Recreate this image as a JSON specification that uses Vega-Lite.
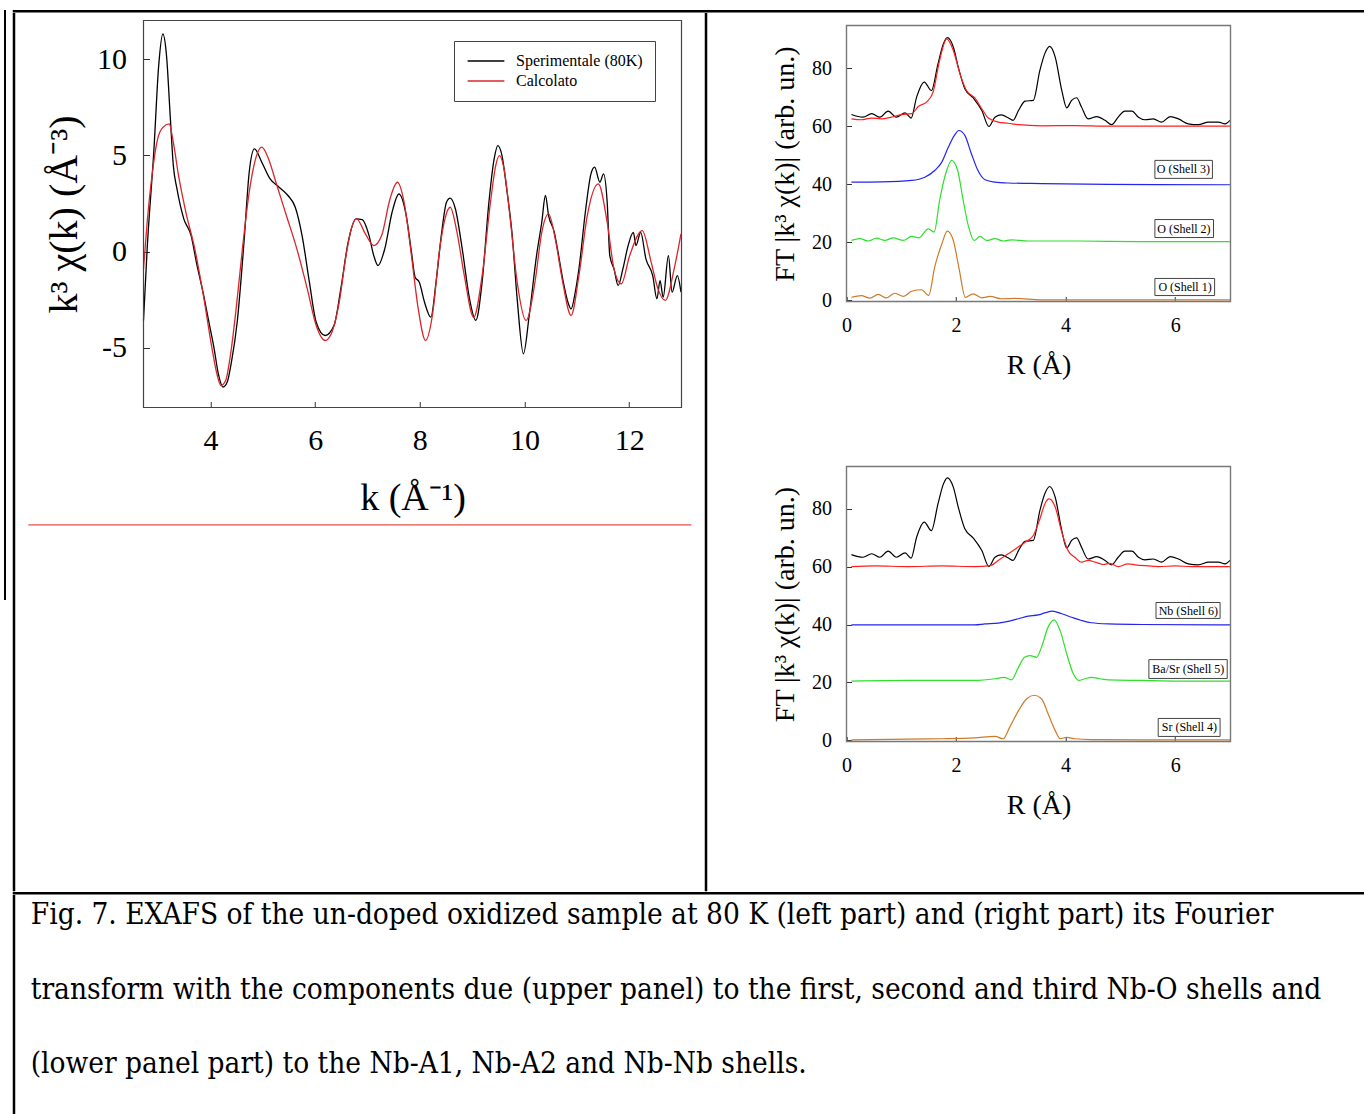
{
  "$schema": "https://vega.github.io/schema/vega-lite/v6.json",
  "background": "white",
  "padding": {"left": 4, "top": 10, "right": 0, "bottom": 0},
  "config": {
    "font": "Liberation Serif",
    "view": {"stroke": null},
    "concat": {"spacing": 0},
    "axis": {
      "grid": false, "domain": false,
      "labelFont": "Liberation Serif", "titleFont": "Liberation Serif",
      "labelColor": "black", "titleColor": "black", "titleFontWeight": "normal",
      "tickColor": "#333", "labelFlush": false, "labelOverlap": false,
      "labelExpr": "datum.value < 0 ? '-' + abs(datum.value) : '' + datum.value"
    }
  },
  "datasets": {
    "blank": [{}],
    "exafs": [
      {"k": 2.72, "chi": -3.58, "series": "Sperimentale (80K)"},
      {"k": 2.79, "chi": 0.14, "series": "Sperimentale (80K)"},
      {"k": 2.92, "chi": 5.33, "series": "Sperimentale (80K)"},
      {"k": 3.01, "chi": 9.65, "series": "Sperimentale (80K)"},
      {"k": 3.09, "chi": 11.3, "series": "Sperimentale (80K)"},
      {"k": 3.16, "chi": 10.17, "series": "Sperimentale (80K)"},
      {"k": 3.23, "chi": 7.06, "series": "Sperimentale (80K)"},
      {"k": 3.29, "chi": 4.46, "series": "Sperimentale (80K)"},
      {"k": 3.36, "chi": 3.25, "series": "Sperimentale (80K)"},
      {"k": 3.49, "chi": 1.7, "series": "Sperimentale (80K)"},
      {"k": 3.63, "chi": 0.83, "series": "Sperimentale (80K)"},
      {"k": 3.73, "chi": -0.55, "series": "Sperimentale (80K)"},
      {"k": 3.87, "chi": -2.28, "series": "Sperimentale (80K)"},
      {"k": 3.97, "chi": -3.67, "series": "Sperimentale (80K)"},
      {"k": 4.07, "chi": -5.05, "series": "Sperimentale (80K)"},
      {"k": 4.15, "chi": -6.35, "series": "Sperimentale (80K)"},
      {"k": 4.24, "chi": -7.04, "series": "Sperimentale (80K)"},
      {"k": 4.32, "chi": -6.78, "series": "Sperimentale (80K)"},
      {"k": 4.4, "chi": -5.74, "series": "Sperimentale (80K)"},
      {"k": 4.51, "chi": -3.67, "series": "Sperimentale (80K)"},
      {"k": 4.64, "chi": 0.48, "series": "Sperimentale (80K)"},
      {"k": 4.74, "chi": 4.12, "series": "Sperimentale (80K)"},
      {"k": 4.84, "chi": 5.33, "series": "Sperimentale (80K)"},
      {"k": 4.98, "chi": 4.64, "series": "Sperimentale (80K)"},
      {"k": 5.14, "chi": 3.77, "series": "Sperimentale (80K)"},
      {"k": 5.31, "chi": 3.34, "series": "Sperimentale (80K)"},
      {"k": 5.48, "chi": 2.91, "series": "Sperimentale (80K)"},
      {"k": 5.62, "chi": 2.3, "series": "Sperimentale (80K)"},
      {"k": 5.75, "chi": 0.83, "series": "Sperimentale (80K)"},
      {"k": 5.89, "chi": -1.59, "series": "Sperimentale (80K)"},
      {"k": 6.02, "chi": -3.67, "series": "Sperimentale (80K)"},
      {"k": 6.19, "chi": -4.36, "series": "Sperimentale (80K)"},
      {"k": 6.36, "chi": -3.84, "series": "Sperimentale (80K)"},
      {"k": 6.49, "chi": -1.94, "series": "Sperimentale (80K)"},
      {"k": 6.63, "chi": 0.48, "series": "Sperimentale (80K)"},
      {"k": 6.78, "chi": 1.7, "series": "Sperimentale (80K)"},
      {"k": 6.9, "chi": 1.66, "series": "Sperimentale (80K)"},
      {"k": 7.03, "chi": 0.83, "series": "Sperimentale (80K)"},
      {"k": 7.12, "chi": -0.21, "series": "Sperimentale (80K)"},
      {"k": 7.2, "chi": -0.73, "series": "Sperimentale (80K)"},
      {"k": 7.33, "chi": 0.14, "series": "Sperimentale (80K)"},
      {"k": 7.47, "chi": 2.04, "series": "Sperimentale (80K)"},
      {"k": 7.6, "chi": 2.99, "series": "Sperimentale (80K)"},
      {"k": 7.74, "chi": 1.87, "series": "Sperimentale (80K)"},
      {"k": 7.84, "chi": -0.03, "series": "Sperimentale (80K)"},
      {"k": 7.91, "chi": -1.33, "series": "Sperimentale (80K)"},
      {"k": 7.99, "chi": -1.59, "series": "Sperimentale (80K)"},
      {"k": 8.09, "chi": -2.63, "series": "Sperimentale (80K)"},
      {"k": 8.21, "chi": -3.41, "series": "Sperimentale (80K)"},
      {"k": 8.31, "chi": -1.59, "series": "Sperimentale (80K)"},
      {"k": 8.41, "chi": 0.83, "series": "Sperimentale (80K)"},
      {"k": 8.51, "chi": 2.56, "series": "Sperimentale (80K)"},
      {"k": 8.58, "chi": 2.77, "series": "Sperimentale (80K)"},
      {"k": 8.68, "chi": 2.21, "series": "Sperimentale (80K)"},
      {"k": 8.81, "chi": 0.14, "series": "Sperimentale (80K)"},
      {"k": 8.95, "chi": -2.46, "series": "Sperimentale (80K)"},
      {"k": 9.07, "chi": -3.58, "series": "Sperimentale (80K)"},
      {"k": 9.19, "chi": -1.59, "series": "Sperimentale (80K)"},
      {"k": 9.32, "chi": 2.56, "series": "Sperimentale (80K)"},
      {"k": 9.42, "chi": 4.81, "series": "Sperimentale (80K)"},
      {"k": 9.49, "chi": 5.5, "series": "Sperimentale (80K)"},
      {"k": 9.57, "chi": 4.98, "series": "Sperimentale (80K)"},
      {"k": 9.66, "chi": 3.25, "series": "Sperimentale (80K)"},
      {"k": 9.76, "chi": 1.0, "series": "Sperimentale (80K)"},
      {"k": 9.86, "chi": -2.46, "series": "Sperimentale (80K)"},
      {"k": 9.98, "chi": -5.31, "series": "Sperimentale (80K)"},
      {"k": 10.09, "chi": -3.32, "series": "Sperimentale (80K)"},
      {"k": 10.23, "chi": -0.21, "series": "Sperimentale (80K)"},
      {"k": 10.33, "chi": 1.52, "series": "Sperimentale (80K)"},
      {"k": 10.4, "chi": 2.91, "series": "Sperimentale (80K)"},
      {"k": 10.46, "chi": 1.87, "series": "Sperimentale (80K)"},
      {"k": 10.57, "chi": 1.0, "series": "Sperimentale (80K)"},
      {"k": 10.63, "chi": 0.14, "series": "Sperimentale (80K)"},
      {"k": 10.73, "chi": -1.42, "series": "Sperimentale (80K)"},
      {"k": 10.83, "chi": -2.63, "series": "Sperimentale (80K)"},
      {"k": 10.89, "chi": -2.98, "series": "Sperimentale (80K)"},
      {"k": 10.97, "chi": -2.11, "series": "Sperimentale (80K)"},
      {"k": 11.04, "chi": -0.9, "series": "Sperimentale (80K)"},
      {"k": 11.17, "chi": 2.21, "series": "Sperimentale (80K)"},
      {"k": 11.27, "chi": 4.03, "series": "Sperimentale (80K)"},
      {"k": 11.34, "chi": 4.38, "series": "Sperimentale (80K)"},
      {"k": 11.44, "chi": 3.6, "series": "Sperimentale (80K)"},
      {"k": 11.51, "chi": 4.03, "series": "Sperimentale (80K)"},
      {"k": 11.58, "chi": 2.56, "series": "Sperimentale (80K)"},
      {"k": 11.63, "chi": -0.21, "series": "Sperimentale (80K)"},
      {"k": 11.71, "chi": -0.9, "series": "Sperimentale (80K)"},
      {"k": 11.79, "chi": -1.76, "series": "Sperimentale (80K)"},
      {"k": 11.88, "chi": -0.9, "series": "Sperimentale (80K)"},
      {"k": 11.98, "chi": 0.31, "series": "Sperimentale (80K)"},
      {"k": 12.08, "chi": 1.0, "series": "Sperimentale (80K)"},
      {"k": 12.13, "chi": 0.31, "series": "Sperimentale (80K)"},
      {"k": 12.22, "chi": 1.0, "series": "Sperimentale (80K)"},
      {"k": 12.32, "chi": -0.38, "series": "Sperimentale (80K)"},
      {"k": 12.45, "chi": -1.25, "series": "Sperimentale (80K)"},
      {"k": 12.53, "chi": -2.46, "series": "Sperimentale (80K)"},
      {"k": 12.59, "chi": -1.51, "series": "Sperimentale (80K)"},
      {"k": 12.65, "chi": -2.37, "series": "Sperimentale (80K)"},
      {"k": 12.75, "chi": -0.21, "series": "Sperimentale (80K)"},
      {"k": 12.82, "chi": -2.11, "series": "Sperimentale (80K)"},
      {"k": 12.92, "chi": -1.25, "series": "Sperimentale (80K)"},
      {"k": 12.99, "chi": -2.11, "series": "Sperimentale (80K)"},
      {"k": 2.72, "chi": -0.9, "series": "Calcolato"},
      {"k": 2.79, "chi": 1.52, "series": "Calcolato"},
      {"k": 2.89, "chi": 4.12, "series": "Calcolato"},
      {"k": 2.99, "chi": 5.85, "series": "Calcolato"},
      {"k": 3.09, "chi": 6.45, "series": "Calcolato"},
      {"k": 3.21, "chi": 6.63, "series": "Calcolato"},
      {"k": 3.29, "chi": 5.67, "series": "Calcolato"},
      {"k": 3.39, "chi": 3.94, "series": "Calcolato"},
      {"k": 3.53, "chi": 2.04, "series": "Calcolato"},
      {"k": 3.7, "chi": 0.14, "series": "Calcolato"},
      {"k": 3.87, "chi": -2.37, "series": "Calcolato"},
      {"k": 4.03, "chi": -5.05, "series": "Calcolato"},
      {"k": 4.13, "chi": -6.44, "series": "Calcolato"},
      {"k": 4.2, "chi": -6.96, "series": "Calcolato"},
      {"k": 4.29, "chi": -6.7, "series": "Calcolato"},
      {"k": 4.38, "chi": -5.4, "series": "Calcolato"},
      {"k": 4.49, "chi": -2.98, "series": "Calcolato"},
      {"k": 4.61, "chi": 0.14, "series": "Calcolato"},
      {"k": 4.74, "chi": 3.08, "series": "Calcolato"},
      {"k": 4.88, "chi": 4.98, "series": "Calcolato"},
      {"k": 4.98, "chi": 5.42, "series": "Calcolato"},
      {"k": 5.11, "chi": 4.81, "series": "Calcolato"},
      {"k": 5.25, "chi": 3.6, "series": "Calcolato"},
      {"k": 5.45, "chi": 1.87, "series": "Calcolato"},
      {"k": 5.65, "chi": 0.14, "series": "Calcolato"},
      {"k": 5.85, "chi": -1.94, "series": "Calcolato"},
      {"k": 6.02, "chi": -3.84, "series": "Calcolato"},
      {"k": 6.19, "chi": -4.62, "series": "Calcolato"},
      {"k": 6.32, "chi": -4.19, "series": "Calcolato"},
      {"k": 6.46, "chi": -2.63, "series": "Calcolato"},
      {"k": 6.59, "chi": -0.21, "series": "Calcolato"},
      {"k": 6.69, "chi": 1.18, "series": "Calcolato"},
      {"k": 6.79, "chi": 1.7, "series": "Calcolato"},
      {"k": 6.96, "chi": 0.92, "series": "Calcolato"},
      {"k": 7.12, "chi": 0.31, "series": "Calcolato"},
      {"k": 7.27, "chi": 0.83, "series": "Calcolato"},
      {"k": 7.43, "chi": 2.73, "series": "Calcolato"},
      {"k": 7.57, "chi": 3.6, "series": "Calcolato"},
      {"k": 7.7, "chi": 2.56, "series": "Calcolato"},
      {"k": 7.84, "chi": -0.21, "series": "Calcolato"},
      {"k": 7.97, "chi": -2.98, "series": "Calcolato"},
      {"k": 8.11, "chi": -4.62, "series": "Calcolato"},
      {"k": 8.24, "chi": -3.32, "series": "Calcolato"},
      {"k": 8.38, "chi": 0.14, "series": "Calcolato"},
      {"k": 8.48, "chi": 1.7, "series": "Calcolato"},
      {"k": 8.58, "chi": 2.3, "series": "Calcolato"},
      {"k": 8.71, "chi": 1.0, "series": "Calcolato"},
      {"k": 8.85, "chi": -1.25, "series": "Calcolato"},
      {"k": 9.03, "chi": -3.41, "series": "Calcolato"},
      {"k": 9.19, "chi": -1.25, "series": "Calcolato"},
      {"k": 9.35, "chi": 2.56, "series": "Calcolato"},
      {"k": 9.45, "chi": 4.46, "series": "Calcolato"},
      {"k": 9.52, "chi": 4.98, "series": "Calcolato"},
      {"k": 9.62, "chi": 4.12, "series": "Calcolato"},
      {"k": 9.72, "chi": 1.87, "series": "Calcolato"},
      {"k": 9.86, "chi": -1.59, "series": "Calcolato"},
      {"k": 10.03, "chi": -3.58, "series": "Calcolato"},
      {"k": 10.2, "chi": -1.59, "series": "Calcolato"},
      {"k": 10.33, "chi": 1.0, "series": "Calcolato"},
      {"k": 10.46, "chi": 1.96, "series": "Calcolato"},
      {"k": 10.6, "chi": 0.48, "series": "Calcolato"},
      {"k": 10.73, "chi": -1.59, "series": "Calcolato"},
      {"k": 10.89, "chi": -3.32, "series": "Calcolato"},
      {"k": 11.04, "chi": -1.25, "series": "Calcolato"},
      {"k": 11.2, "chi": 1.87, "series": "Calcolato"},
      {"k": 11.41, "chi": 3.51, "series": "Calcolato"},
      {"k": 11.58, "chi": 1.52, "series": "Calcolato"},
      {"k": 11.71, "chi": -0.9, "series": "Calcolato"},
      {"k": 11.85, "chi": -1.68, "series": "Calcolato"},
      {"k": 12.01, "chi": -0.21, "series": "Calcolato"},
      {"k": 12.25, "chi": 1.09, "series": "Calcolato"},
      {"k": 12.42, "chi": -0.55, "series": "Calcolato"},
      {"k": 12.55, "chi": -1.94, "series": "Calcolato"},
      {"k": 12.69, "chi": -2.54, "series": "Calcolato"},
      {"k": 12.86, "chi": -0.9, "series": "Calcolato"},
      {"k": 12.99, "chi": 0.92, "series": "Calcolato"}
    ],
    "ft_exp": [
      {"R": 0.09, "ft": 64.1}, {"R": 0.3, "ft": 63.2}, {"R": 0.46, "ft": 64.4}, {"R": 0.61, "ft": 63.2},
      {"R": 0.76, "ft": 65.3}, {"R": 0.91, "ft": 63.2}, {"R": 1.07, "ft": 64.7}, {"R": 1.18, "ft": 62.9},
      {"R": 1.28, "ft": 70.1}, {"R": 1.42, "ft": 75.3}, {"R": 1.55, "ft": 72.4}, {"R": 1.67, "ft": 81.6},
      {"R": 1.77, "ft": 88.5}, {"R": 1.84, "ft": 90.6}, {"R": 1.95, "ft": 87.4}, {"R": 2.04, "ft": 80.5},
      {"R": 2.16, "ft": 73.0}, {"R": 2.31, "ft": 69.9}, {"R": 2.47, "ft": 65.5}, {"R": 2.6, "ft": 60.0},
      {"R": 2.71, "ft": 63.2}, {"R": 2.83, "ft": 64.0}, {"R": 2.95, "ft": 63.0}, {"R": 3.04, "ft": 62.1},
      {"R": 3.14, "ft": 65.5}, {"R": 3.26, "ft": 68.7}, {"R": 3.41, "ft": 69.0}, {"R": 3.53, "ft": 79.3},
      {"R": 3.62, "ft": 85.1}, {"R": 3.71, "ft": 87.6}, {"R": 3.81, "ft": 83.9}, {"R": 3.93, "ft": 72.4},
      {"R": 4.02, "ft": 66.4}, {"R": 4.11, "ft": 69.0}, {"R": 4.2, "ft": 69.9}, {"R": 4.29, "ft": 66.7},
      {"R": 4.41, "ft": 62.6}, {"R": 4.57, "ft": 63.4}, {"R": 4.72, "ft": 62.1}, {"R": 4.84, "ft": 60.6},
      {"R": 4.96, "ft": 63.2}, {"R": 5.08, "ft": 65.3}, {"R": 5.21, "ft": 65.3}, {"R": 5.33, "ft": 63.2},
      {"R": 5.45, "ft": 62.3}, {"R": 5.6, "ft": 62.6}, {"R": 5.75, "ft": 61.5}, {"R": 5.91, "ft": 63.4},
      {"R": 6.06, "ft": 62.6}, {"R": 6.24, "ft": 60.9}, {"R": 6.42, "ft": 60.6}, {"R": 6.61, "ft": 61.5},
      {"R": 6.79, "ft": 61.5}, {"R": 6.91, "ft": 60.9}, {"R": 7.0, "ft": 62.1}
    ],
    "ft_upper": [
      {"R": 0.09, "ft": 62.6, "series": "Fit"}, {"R": 0.27, "ft": 62.3, "series": "Fit"},
      {"R": 0.46, "ft": 62.9, "series": "Fit"}, {"R": 0.64, "ft": 62.6, "series": "Fit"},
      {"R": 0.82, "ft": 63.2, "series": "Fit"}, {"R": 1.0, "ft": 64.1, "series": "Fit"},
      {"R": 1.19, "ft": 64.4, "series": "Fit"}, {"R": 1.31, "ft": 66.9, "series": "Fit"},
      {"R": 1.46, "ft": 68.4, "series": "Fit"}, {"R": 1.58, "ft": 71.8, "series": "Fit"},
      {"R": 1.7, "ft": 82.8, "series": "Fit"}, {"R": 1.83, "ft": 90.2, "series": "Fit"},
      {"R": 1.95, "ft": 86.2, "series": "Fit"}, {"R": 2.07, "ft": 78.2, "series": "Fit"},
      {"R": 2.19, "ft": 72.4, "series": "Fit"}, {"R": 2.34, "ft": 69.9, "series": "Fit"},
      {"R": 2.47, "ft": 66.1, "series": "Fit"}, {"R": 2.59, "ft": 62.9, "series": "Fit"},
      {"R": 2.77, "ft": 61.5, "series": "Fit"}, {"R": 2.95, "ft": 61.1, "series": "Fit"},
      {"R": 3.14, "ft": 60.6, "series": "Fit"}, {"R": 3.56, "ft": 60.2, "series": "Fit"},
      {"R": 4.17, "ft": 60.3, "series": "Fit"}, {"R": 4.78, "ft": 60.1, "series": "Fit"},
      {"R": 6.0, "ft": 60.1, "series": "Fit"}, {"R": 7.0, "ft": 60.1, "series": "Fit"},
      {"R": 0.09, "ft": 40.8, "series": "O (Shell 3)"}, {"R": 0.64, "ft": 40.9, "series": "O (Shell 3)"},
      {"R": 1.19, "ft": 41.4, "series": "O (Shell 3)"}, {"R": 1.43, "ft": 42.5, "series": "O (Shell 3)"},
      {"R": 1.61, "ft": 44.8, "series": "O (Shell 3)"}, {"R": 1.74, "ft": 47.7, "series": "O (Shell 3)"},
      {"R": 1.86, "ft": 52.9, "series": "O (Shell 3)"}, {"R": 1.97, "ft": 56.9, "series": "O (Shell 3)"},
      {"R": 2.05, "ft": 58.6, "series": "O (Shell 3)"}, {"R": 2.16, "ft": 56.9, "series": "O (Shell 3)"},
      {"R": 2.28, "ft": 50.6, "series": "O (Shell 3)"}, {"R": 2.4, "ft": 44.8, "series": "O (Shell 3)"},
      {"R": 2.53, "ft": 41.6, "series": "O (Shell 3)"}, {"R": 2.71, "ft": 40.8, "series": "O (Shell 3)"},
      {"R": 2.95, "ft": 40.5, "series": "O (Shell 3)"}, {"R": 3.56, "ft": 40.3, "series": "O (Shell 3)"},
      {"R": 4.78, "ft": 40.0, "series": "O (Shell 3)"}, {"R": 7.0, "ft": 39.9, "series": "O (Shell 3)"},
      {"R": 0.09, "ft": 20.7, "series": "O (Shell 2)"}, {"R": 0.24, "ft": 21.3, "series": "O (Shell 2)"},
      {"R": 0.4, "ft": 20.5, "series": "O (Shell 2)"}, {"R": 0.55, "ft": 21.5, "series": "O (Shell 2)"},
      {"R": 0.7, "ft": 20.7, "series": "O (Shell 2)"}, {"R": 0.85, "ft": 21.6, "series": "O (Shell 2)"},
      {"R": 1.04, "ft": 20.7, "series": "O (Shell 2)"}, {"R": 1.19, "ft": 22.1, "series": "O (Shell 2)"},
      {"R": 1.32, "ft": 21.6, "series": "O (Shell 2)"}, {"R": 1.49, "ft": 24.7, "series": "O (Shell 2)"},
      {"R": 1.6, "ft": 23.6, "series": "O (Shell 2)"}, {"R": 1.7, "ft": 34.5, "series": "O (Shell 2)"},
      {"R": 1.81, "ft": 43.7, "series": "O (Shell 2)"}, {"R": 1.92, "ft": 48.3, "series": "O (Shell 2)"},
      {"R": 2.03, "ft": 44.8, "series": "O (Shell 2)"}, {"R": 2.13, "ft": 34.5, "series": "O (Shell 2)"},
      {"R": 2.23, "ft": 25.3, "series": "O (Shell 2)"}, {"R": 2.33, "ft": 20.7, "series": "O (Shell 2)"},
      {"R": 2.44, "ft": 22.1, "series": "O (Shell 2)"}, {"R": 2.56, "ft": 20.7, "series": "O (Shell 2)"},
      {"R": 2.71, "ft": 21.3, "series": "O (Shell 2)"}, {"R": 2.86, "ft": 20.5, "series": "O (Shell 2)"},
      {"R": 3.01, "ft": 20.9, "series": "O (Shell 2)"}, {"R": 3.32, "ft": 20.5, "series": "O (Shell 2)"},
      {"R": 4.17, "ft": 20.5, "series": "O (Shell 2)"}, {"R": 5.39, "ft": 20.3, "series": "O (Shell 2)"},
      {"R": 7.0, "ft": 20.3, "series": "O (Shell 2)"},
      {"R": 0.09, "ft": 1.1, "series": "O (Shell 1)"}, {"R": 0.27, "ft": 1.7, "series": "O (Shell 1)"},
      {"R": 0.43, "ft": 0.8, "series": "O (Shell 1)"}, {"R": 0.58, "ft": 2.1, "series": "O (Shell 1)"},
      {"R": 0.73, "ft": 0.9, "series": "O (Shell 1)"}, {"R": 0.88, "ft": 2.5, "series": "O (Shell 1)"},
      {"R": 1.04, "ft": 1.4, "series": "O (Shell 1)"}, {"R": 1.19, "ft": 3.2, "series": "O (Shell 1)"},
      {"R": 1.37, "ft": 3.7, "series": "O (Shell 1)"}, {"R": 1.5, "ft": 1.7, "series": "O (Shell 1)"},
      {"R": 1.61, "ft": 11.5, "series": "O (Shell 1)"}, {"R": 1.74, "ft": 19.5, "series": "O (Shell 1)"},
      {"R": 1.84, "ft": 23.9, "series": "O (Shell 1)"}, {"R": 1.95, "ft": 20.7, "series": "O (Shell 1)"},
      {"R": 2.05, "ft": 11.5, "series": "O (Shell 1)"}, {"R": 2.17, "ft": 1.1, "series": "O (Shell 1)"},
      {"R": 2.31, "ft": 2.3, "series": "O (Shell 1)"}, {"R": 2.47, "ft": 0.9, "series": "O (Shell 1)"},
      {"R": 2.62, "ft": 1.4, "series": "O (Shell 1)"}, {"R": 2.83, "ft": 0.6, "series": "O (Shell 1)"},
      {"R": 3.07, "ft": 0.7, "series": "O (Shell 1)"}, {"R": 3.56, "ft": 0.2, "series": "O (Shell 1)"},
      {"R": 4.78, "ft": 0.2, "series": "O (Shell 1)"}, {"R": 7.0, "ft": 0.2, "series": "O (Shell 1)"}
    ],
    "ft_lower": [
      {"R": 0.09, "ft": 60.0, "series": "Fit"}, {"R": 0.52, "ft": 60.2, "series": "Fit"},
      {"R": 1.13, "ft": 60.0, "series": "Fit"}, {"R": 1.74, "ft": 60.2, "series": "Fit"},
      {"R": 2.34, "ft": 60.0, "series": "Fit"}, {"R": 2.62, "ft": 60.3, "series": "Fit"},
      {"R": 2.77, "ft": 62.1, "series": "Fit"}, {"R": 2.95, "ft": 64.4, "series": "Fit"},
      {"R": 3.11, "ft": 66.4, "series": "Fit"}, {"R": 3.26, "ft": 68.4, "series": "Fit"},
      {"R": 3.41, "ft": 70.7, "series": "Fit"}, {"R": 3.53, "ft": 76.4, "series": "Fit"},
      {"R": 3.62, "ft": 81.6, "series": "Fit"}, {"R": 3.7, "ft": 83.3, "series": "Fit"},
      {"R": 3.81, "ft": 80.5, "series": "Fit"}, {"R": 3.93, "ft": 71.8, "series": "Fit"},
      {"R": 4.05, "ft": 65.3, "series": "Fit"}, {"R": 4.17, "ft": 63.2, "series": "Fit"},
      {"R": 4.29, "ft": 61.5, "series": "Fit"}, {"R": 4.41, "ft": 62.1, "series": "Fit"},
      {"R": 4.54, "ft": 61.5, "series": "Fit"}, {"R": 4.69, "ft": 60.7, "series": "Fit"},
      {"R": 4.81, "ft": 61.1, "series": "Fit"}, {"R": 4.96, "ft": 60.0, "series": "Fit"},
      {"R": 5.14, "ft": 60.9, "series": "Fit"}, {"R": 5.27, "ft": 60.6, "series": "Fit"},
      {"R": 5.45, "ft": 60.3, "series": "Fit"}, {"R": 5.69, "ft": 60.0, "series": "Fit"},
      {"R": 6.0, "ft": 60.2, "series": "Fit"}, {"R": 6.3, "ft": 60.0, "series": "Fit"},
      {"R": 7.0, "ft": 60.0, "series": "Fit"},
      {"R": 0.09, "ft": 39.9, "series": "Nb (Shell 6)"}, {"R": 2.34, "ft": 39.9, "series": "Nb (Shell 6)"},
      {"R": 2.53, "ft": 40.2, "series": "Nb (Shell 6)"}, {"R": 2.77, "ft": 40.5, "series": "Nb (Shell 6)"},
      {"R": 2.95, "ft": 41.1, "series": "Nb (Shell 6)"}, {"R": 3.14, "ft": 42.0, "series": "Nb (Shell 6)"},
      {"R": 3.32, "ft": 42.9, "series": "Nb (Shell 6)"}, {"R": 3.5, "ft": 43.3, "series": "Nb (Shell 6)"},
      {"R": 3.62, "ft": 44.0, "series": "Nb (Shell 6)"}, {"R": 3.76, "ft": 44.6, "series": "Nb (Shell 6)"},
      {"R": 3.93, "ft": 43.7, "series": "Nb (Shell 6)"}, {"R": 4.11, "ft": 42.5, "series": "Nb (Shell 6)"},
      {"R": 4.29, "ft": 41.4, "series": "Nb (Shell 6)"}, {"R": 4.47, "ft": 40.6, "series": "Nb (Shell 6)"},
      {"R": 4.78, "ft": 40.2, "series": "Nb (Shell 6)"}, {"R": 5.39, "ft": 40.0, "series": "Nb (Shell 6)"},
      {"R": 7.0, "ft": 39.9, "series": "Nb (Shell 6)"},
      {"R": 0.09, "ft": 20.5, "series": "Ba/Sr (Shell 5)"}, {"R": 1.13, "ft": 20.7, "series": "Ba/Sr (Shell 5)"},
      {"R": 1.74, "ft": 20.7, "series": "Ba/Sr (Shell 5)"}, {"R": 2.34, "ft": 20.7, "series": "Ba/Sr (Shell 5)"},
      {"R": 2.71, "ft": 21.3, "series": "Ba/Sr (Shell 5)"}, {"R": 2.88, "ft": 21.8, "series": "Ba/Sr (Shell 5)"},
      {"R": 3.01, "ft": 20.9, "series": "Ba/Sr (Shell 5)"}, {"R": 3.14, "ft": 25.3, "series": "Ba/Sr (Shell 5)"},
      {"R": 3.25, "ft": 28.7, "series": "Ba/Sr (Shell 5)"}, {"R": 3.35, "ft": 29.3, "series": "Ba/Sr (Shell 5)"},
      {"R": 3.47, "ft": 28.7, "series": "Ba/Sr (Shell 5)"}, {"R": 3.56, "ft": 32.2, "series": "Ba/Sr (Shell 5)"},
      {"R": 3.68, "ft": 39.1, "series": "Ba/Sr (Shell 5)"}, {"R": 3.79, "ft": 41.6, "series": "Ba/Sr (Shell 5)"},
      {"R": 3.9, "ft": 37.9, "series": "Ba/Sr (Shell 5)"}, {"R": 4.02, "ft": 29.9, "series": "Ba/Sr (Shell 5)"},
      {"R": 4.14, "ft": 23.0, "series": "Ba/Sr (Shell 5)"}, {"R": 4.24, "ft": 20.7, "series": "Ba/Sr (Shell 5)"},
      {"R": 4.35, "ft": 21.3, "series": "Ba/Sr (Shell 5)"}, {"R": 4.47, "ft": 21.8, "series": "Ba/Sr (Shell 5)"},
      {"R": 4.63, "ft": 21.3, "series": "Ba/Sr (Shell 5)"}, {"R": 4.78, "ft": 20.9, "series": "Ba/Sr (Shell 5)"},
      {"R": 5.39, "ft": 20.7, "series": "Ba/Sr (Shell 5)"}, {"R": 6.0, "ft": 20.5, "series": "Ba/Sr (Shell 5)"},
      {"R": 7.0, "ft": 20.5, "series": "Ba/Sr (Shell 5)"},
      {"R": 0.09, "ft": 0.2, "series": "Sr (Shell 4)"}, {"R": 1.13, "ft": 0.5, "series": "Sr (Shell 4)"},
      {"R": 1.74, "ft": 0.6, "series": "Sr (Shell 4)"}, {"R": 2.34, "ft": 0.9, "series": "Sr (Shell 4)"},
      {"R": 2.71, "ft": 1.4, "series": "Sr (Shell 4)"}, {"R": 2.86, "ft": 0.6, "series": "Sr (Shell 4)"},
      {"R": 2.98, "ft": 4.6, "series": "Sr (Shell 4)"}, {"R": 3.14, "ft": 10.3, "series": "Sr (Shell 4)"},
      {"R": 3.29, "ft": 14.4, "series": "Sr (Shell 4)"}, {"R": 3.43, "ft": 15.6, "series": "Sr (Shell 4)"},
      {"R": 3.56, "ft": 14.4, "series": "Sr (Shell 4)"}, {"R": 3.68, "ft": 9.2, "series": "Sr (Shell 4)"},
      {"R": 3.81, "ft": 3.4, "series": "Sr (Shell 4)"}, {"R": 3.9, "ft": 0.6, "series": "Sr (Shell 4)"},
      {"R": 4.02, "ft": 1.1, "series": "Sr (Shell 4)"}, {"R": 4.17, "ft": 0.6, "series": "Sr (Shell 4)"},
      {"R": 4.47, "ft": 0.3, "series": "Sr (Shell 4)"}, {"R": 5.39, "ft": 0.2, "series": "Sr (Shell 4)"},
      {"R": 7.0, "ft": 0.2, "series": "Sr (Shell 4)"}
    ],
    "labels_upper": [
      {"label": "O (Shell 3)", "R": 6.15, "v": 45.2, "r0": 5.63, "r1": 6.68, "v0": 42.1, "v1": 48.3},
      {"label": "O (Shell 2)", "R": 6.16, "v": 24.8, "r0": 5.63, "r1": 6.7, "v0": 21.7, "v1": 27.9},
      {"label": "O (Shell 1)", "R": 6.18, "v": 4.7, "r0": 5.63, "r1": 6.72, "v0": 1.7, "v1": 7.6}
    ],
    "labels_lower": [
      {"label": "Nb (Shell 6)", "R": 6.24, "v": 44.8, "r0": 5.65, "r1": 6.82, "v0": 42.1, "v1": 47.6},
      {"label": "Ba/Sr (Shell 5)", "R": 6.24, "v": 24.7, "r0": 5.52, "r1": 6.95, "v0": 21.4, "v1": 27.9},
      {"label": "Sr (Shell 4)", "R": 6.26, "v": 4.5, "r0": 5.69, "r1": 6.82, "v0": 1.4, "v1": 7.6}
    ],
    "caption": [
      {"line": 1, "text": "Fig.  7. EXAFS of the un-doped oxidized sample at 80 K (left part) and (right part) its Fourier"},
      {"line": 2, "text": "transform with the components due (upper panel) to the first, second and third Nb-O shells and"},
      {"line": 3, "text": "(lower panel part) to the Nb-A1, Nb-A2 and Nb-Nb shells."}
    ]
  },
  "spacing": 6.75,
  "hconcat": [
    {
      "width": 2, "height": 590,
      "view": {"fill": "black", "stroke": null},
      "data": {"name": "blank"}, "mark": {"type": "text", "text": "", "fontSize": 0}, "encoding": {}
    },
    {
      "spacing": 0,
      "vconcat": [
        {
          "width": 1353.25, "height": 2.5,
          "view": {"fill": "black", "stroke": null},
          "data": {"name": "blank"}, "mark": {"type": "text", "text": "", "fontSize": 0}, "encoding": {}
        },
        {
          "spacing": 0,
          "hconcat": [
            {
              "width": 2.5, "height": 878.25,
              "view": {"fill": "black", "stroke": null},
              "data": {"name": "blank"}, "mark": {"type": "text", "text": "", "fontSize": 0}, "encoding": {}
            },
            {
              "width": 688.5, "height": 878.25,
              "layer": [
                {
                  "data": {"name": "exafs"},
                  "mark": {"type": "line", "strokeWidth": 1.3, "interpolate": "monotone"},
                  "encoding": {
                    "x": {
                      "field": "k", "type": "quantitative",
                      "scale": {"domain": [2.72, 13.0], "range": [127.75, 665.75], "nice": false, "zero": false},
                      "axis": {"orient": "bottom", "offset": -483.75, "values": [4, 6, 8, 10, 12], "title": "k (Å⁻¹)",
                               "labelFontSize": 30, "titleFontSize": 38, "tickSize": -6, "labelPadding": 24, "titlePadding": 24}
                    },
                    "y": {
                      "field": "chi", "type": "quantitative",
                      "scale": {"domain": [-8.1, 12], "range": [394.5, 7.5], "nice": false, "zero": false},
                      "axis": {"orient": "left", "offset": -127.75, "values": [-5, 0, 5, 10], "title": "k³ χ(k) (Å⁻³)",
                               "labelFontSize": 30, "titleFontSize": 40, "tickSize": -6, "labelPadding": 23, "titlePadding": 12}
                    },
                    "color": {
                      "field": "series", "type": "nominal",
                      "scale": {"domain": ["Sperimentale (80K)", "Calcolato"], "range": ["#000000", "#d9262b"]},
                      "legend": {
                        "orient": "none", "legendX": 450, "legendY": 31, "title": null,
                        "symbolType": "M-3,0H3", "symbolSize": 150, "symbolStrokeWidth": 1.3, "symbolOffset": 12,
                        "labelFont": "Liberation Serif", "labelFontSize": 16, "labelColor": "black", "labelOffset": 22,
                        "rowPadding": 4, "padding": 12, "strokeColor": "#444", "fillColor": "white"
                      }
                    }
                  }
                },
                {
                  "data": {"name": "blank"},
                  "mark": {"type": "rect", "fill": null, "stroke": "#444", "strokeWidth": 1.2},
                  "encoding": {"x": {"datum": 2.72}, "x2": {"datum": 13.0}, "y": {"datum": -8.1}, "y2": {"datum": 12}}
                },
                {
                  "data": {"name": "blank"},
                  "mark": {"type": "rule", "color": "#e8504a", "strokeWidth": 1.3},
                  "encoding": {"x": {"datum": 0.52}, "x2": {"datum": 13.19}, "y": {"datum": -14.2}}
                }
              ]
            },
            {
              "width": 2.5, "height": 878.25,
              "view": {"fill": "black", "stroke": null},
              "data": {"name": "blank"}, "mark": {"type": "text", "text": "", "fontSize": 0}, "encoding": {}
            },
            {
              "width": 659.75, "height": 878.25,
              "resolve": {
                "scale": {"x": "independent", "y": "independent", "color": "independent"},
                "axis": {"x": "independent", "y": "independent"}
              },
              "layer": [
                {
                  "layer": [
                    {
                      "data": {"name": "ft_exp"},
                      "mark": {"type": "line", "strokeWidth": 1.2, "interpolate": "monotone", "color": "black"},
                      "encoding": {
                        "x": {
                          "field": "R", "type": "quantitative",
                          "scale": {"domain": [0, 7.01], "range": [138.75, 522.75], "nice": false, "zero": false},
                          "axis": {"orient": "bottom", "offset": -589.75, "values": [0, 2, 4, 6], "title": "R (Å)",
                                   "labelFontSize": 20, "titleFontSize": 28, "tickSize": -5, "labelPadding": 19, "titlePadding": 16}
                        },
                        "y": {
                          "field": "ft", "type": "quantitative",
                          "scale": {"domain": [-0.35, 94.8], "range": [288.5, 12.5], "nice": false, "zero": false},
                          "axis": {"orient": "left", "offset": -138.75, "values": [0, 20, 40, 60, 80], "title": "FT |k³ χ(k)| (arb. un.)",
                                   "labelFontSize": 20, "titleFontSize": 28, "tickSize": -5, "labelPadding": 20, "titlePadding": 12}
                        }
                      }
                    },
                    {
                      "data": {"name": "ft_upper"},
                      "mark": {"type": "line", "strokeWidth": 1.2, "interpolate": "monotone"},
                      "encoding": {
                        "x": {"field": "R", "type": "quantitative"},
                        "y": {"field": "ft", "type": "quantitative"},
                        "color": {
                          "field": "series", "type": "nominal", "legend": null,
                          "scale": {"domain": ["Fit", "O (Shell 3)", "O (Shell 2)", "O (Shell 1)"],
                                    "range": ["#ff1f1f", "#2424f0", "#2ee02e", "#cd7b2b"]}
                        }
                      }
                    },
                    {
                      "data": {"name": "blank"},
                      "mark": {"type": "rect", "fill": null, "stroke": "#777", "strokeWidth": 1.4},
                      "encoding": {"x": {"datum": 0}, "x2": {"datum": 7.01}, "y": {"datum": -0.35}, "y2": {"datum": 94.8}}
                    },
                    {
                      "data": {"name": "labels_upper"},
                      "mark": {"type": "rect", "fill": "white", "stroke": "#444", "strokeWidth": 1},
                      "encoding": {
                        "x": {"field": "r0", "type": "quantitative"}, "x2": {"field": "r1"},
                        "y": {"field": "v0", "type": "quantitative"}, "y2": {"field": "v1"}
                      }
                    },
                    {
                      "data": {"name": "labels_upper"},
                      "mark": {"type": "text", "font": "Liberation Serif", "fontSize": 12, "color": "black"},
                      "encoding": {
                        "x": {"field": "R", "type": "quantitative"},
                        "y": {"field": "v", "type": "quantitative"},
                        "text": {"field": "label"}
                      }
                    }
                  ]
                },
                {
                  "layer": [
                    {
                      "data": {"name": "ft_exp"},
                      "mark": {"type": "line", "strokeWidth": 1.2, "interpolate": "monotone", "color": "black"},
                      "encoding": {
                        "x": {
                          "field": "R", "type": "quantitative",
                          "scale": {"domain": [0, 7.01], "range": [138.75, 522.75], "nice": false, "zero": false},
                          "axis": {"orient": "bottom", "offset": -149.75, "values": [0, 2, 4, 6], "title": "R (Å)",
                                   "labelFontSize": 20, "titleFontSize": 28, "tickSize": -5, "labelPadding": 19, "titlePadding": 16}
                        },
                        "y": {
                          "field": "ft", "type": "quantitative",
                          "scale": {"domain": [-0.35, 94.5], "range": [728.5, 453.5], "nice": false, "zero": false},
                          "axis": {"orient": "left", "offset": -138.75, "values": [0, 20, 40, 60, 80], "title": "FT |k³ χ(k)| (arb. un.)",
                                   "labelFontSize": 20, "titleFontSize": 28, "tickSize": -5, "labelPadding": 20, "titlePadding": 12}
                        }
                      }
                    },
                    {
                      "data": {"name": "ft_lower"},
                      "mark": {"type": "line", "strokeWidth": 1.2, "interpolate": "monotone"},
                      "encoding": {
                        "x": {"field": "R", "type": "quantitative"},
                        "y": {"field": "ft", "type": "quantitative"},
                        "color": {
                          "field": "series", "type": "nominal", "legend": null,
                          "scale": {"domain": ["Fit", "Nb (Shell 6)", "Ba/Sr (Shell 5)", "Sr (Shell 4)"],
                                    "range": ["#ff1f1f", "#2424f0", "#2ee02e", "#cd7b2b"]}
                        }
                      }
                    },
                    {
                      "data": {"name": "blank"},
                      "mark": {"type": "rect", "fill": null, "stroke": "#777", "strokeWidth": 1.4},
                      "encoding": {"x": {"datum": 0}, "x2": {"datum": 7.01}, "y": {"datum": -0.35}, "y2": {"datum": 94.5}}
                    },
                    {
                      "data": {"name": "labels_lower"},
                      "mark": {"type": "rect", "fill": "white", "stroke": "#444", "strokeWidth": 1},
                      "encoding": {
                        "x": {"field": "r0", "type": "quantitative"}, "x2": {"field": "r1"},
                        "y": {"field": "v0", "type": "quantitative"}, "y2": {"field": "v1"}
                      }
                    },
                    {
                      "data": {"name": "labels_lower"},
                      "mark": {"type": "text", "font": "Liberation Serif", "fontSize": 12, "color": "black"},
                      "encoding": {
                        "x": {"field": "R", "type": "quantitative"},
                        "y": {"field": "v", "type": "quantitative"},
                        "text": {"field": "label"}
                      }
                    }
                  ]
                }
              ]
            }
          ]
        },
        {
          "width": 1353.25, "height": 2.5,
          "view": {"fill": "black", "stroke": null},
          "data": {"name": "blank"}, "mark": {"type": "text", "text": "", "fontSize": 0}, "encoding": {}
        },
        {
          "spacing": 0,
          "hconcat": [
            {
              "width": 2.5, "height": 222,
              "view": {"fill": "black", "stroke": null},
              "data": {"name": "blank"}, "mark": {"type": "text", "text": "", "fontSize": 0}, "encoding": {}
            },
            {
              "width": 1350.75, "height": 222,
              "data": {"name": "caption"},
              "mark": {"type": "text", "align": "left", "baseline": "middle", "font": "'DejaVu Serif Condensed', 'DejaVu Serif', serif", "fontSize": 29.5, "color": "black"},
              "encoding": {
                "x": {"datum": 0, "type": "quantitative", "scale": {"domain": [0, 1], "range": [15, 1340]}, "axis": null},
                "y": {"field": "line", "type": "quantitative", "scale": {"domain": [1, 3], "range": [20, 169]}, "axis": null},
                "text": {"field": "text"}
              }
            }
          ]
        }
      ]
    }
  ]
}
